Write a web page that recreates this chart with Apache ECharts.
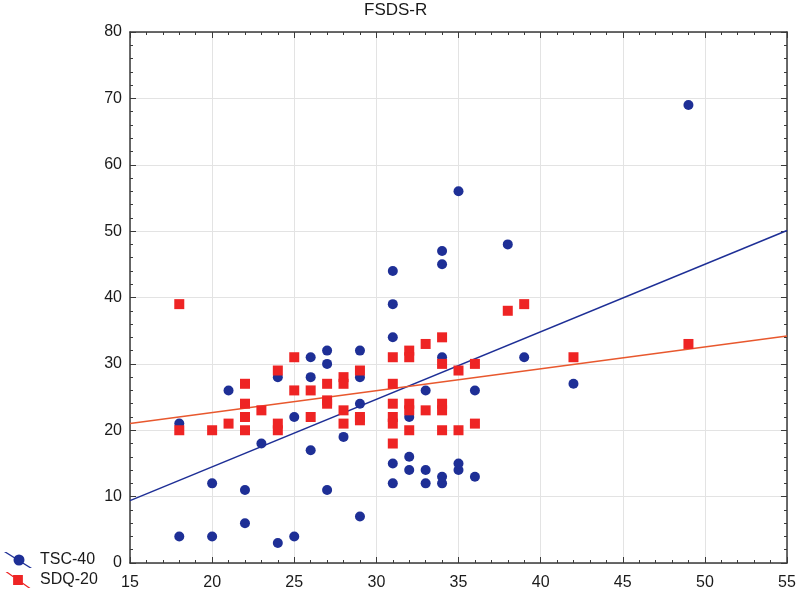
<!DOCTYPE html>
<html>
<head>
<meta charset="utf-8">
<script src="https://cdn.jsdelivr.net/npm/echarts@6/dist/echarts.min.js"></script>
<style>html,body{margin:0;padding:0;background:#fff}#c{width:799px;height:594px}</style>
</head>
<body>
<div id="c"></div>
<script>
const chartTitle = 'FSDS-R';
const seriesNames = ['TSC-40', 'SDQ-20'];
const xTicks = [15, 20, 25, 30, 35, 40, 45, 50, 55];
const yTicks = [0, 10, 20, 30, 40, 50, 60, 70, 80];

const tscPoints = [
  [18,4],[18,21],[20,4],[20,12],[21,26],[22,6],[22,11],[23,18],[24,3],[24,28],
  [25,4],[25,22],[26,17],[26,28],[26,31],[27,11],[27,30],[27,32],[28,19],[29,7],
  [29,24],[29,28],[29,32],[31,12],[31,15],[31,34],[31,39],[31,44],[32,14],[32,16],
  [32,22],[33,12],[33,14],[33,26],[34,12],[34,13],[34,31],[34,45],[34,47],[35,14],
  [35,15],[35,56],[36,13],[36,26],[38,48],[39,31],[42,27],[49,69]
];
const sdqPoints = [
  [18,39],[18,20],[20,20],[21,21],[22,27],[22,24],[22,22],[22,20],[23,23],[24,29],
  [24,21],[24,20],[25,31],[25,26],[26,26],[26,22],[27,27],[27,24.5],[27,24],[28,28],
  [28,27],[28,23],[28,21],[29,29],[29,22],[29,21.5],[31,31],[31,27],[31,24],[31,22],
  [31,21],[31,18],[32,32],[32,31],[32,24],[32,23],[32,20],[33,33],[33,23],[34,34],
  [34,30],[34,24],[34,23],[34,20],[35,29],[35,20],[36,30],[36,21],[38,38],[39,39],
  [42,31],[49,33]
];
// fitted lines (end points)
const tscFit = [[15,9.4],[55,50.1]];
const sdqFit = [[15,21.0],[55,34.2]];

const blue = '#1e2f96';
const red = '#ee2424';
const redLine = '#e8582e';
const axisColor = '#3a3a3a';
const font = 'Liberation Sans, Arial, sans-serif';

const circleIcon = 'path://M0,0 L2.4,0 L28,16 L25.6,16 Z M9.5,8 A5.5,5.5 0 1,1 20.5,8 A5.5,5.5 0 1,1 9.5,8 Z';
const squareIcon = 'path://M0,0 L2.4,0 L28,18 L25.6,18 Z M8.5,3.5 L19.5,3.5 L19.5,14.5 L8.5,14.5 Z';

const xMin = xTicks[0], xMax = xTicks[xTicks.length-1];
const yMin = yTicks[0], yMax = yTicks[yTicks.length-1];

function xAxisCfg(pos, showLabel){
  return {
    type:'value', position:pos, min:xMin, max:xMax, interval:5,
    axisLine:{show:true, onZero:false, lineStyle:{color:axisColor, width:1.5}},
    axisTick:{show:true, inside:true, length:6, lineStyle:{color:axisColor}},
    minorTick:{show:true, splitNumber:5, length:3, lineStyle:{color:axisColor}},
    splitLine:{show:showLabel, lineStyle:{color:'#e3e3e3', width:1}},
    axisLabel:{show:showLabel, color:'#1a1a1a', fontSize:16, fontFamily:font, margin:12}
  };
}
function yAxisCfg(pos, showLabel){
  return {
    type:'value', position:pos, min:yMin, max:yMax, interval:10,
    axisLine:{show:true, onZero:false, lineStyle:{color:axisColor, width:1.5}},
    axisTick:{show:true, inside:true, length:6, lineStyle:{color:axisColor}},
    minorTick:{show:true, splitNumber:5, length:3, lineStyle:{color:axisColor}},
    splitLine:{show:showLabel, lineStyle:{color:'#e3e3e3', width:1}},
    axisLabel:{show:showLabel, color:'#1a1a1a', fontSize:16, fontFamily:font, margin:8}
  };
}

const chart = echarts.init(document.getElementById('c'), null, {renderer:'canvas'});
chart.setOption({
  animation:false,
  backgroundColor:'#fff',
  title:{text:chartTitle, left:364, top:0, padding:[2,0,0,0],
    textStyle:{fontSize:17, fontWeight:'normal', color:'#1a1a1a', fontFamily:font}},
  grid:{left:130, right:12, top:32, bottom:31, containLabel:false},
  xAxis:[xAxisCfg('bottom', true), xAxisCfg('top', false)],
  yAxis:[yAxisCfg('left', true), yAxisCfg('right', false)],
  legend:{
    orient:'vertical', left:4, top:552, height:42, padding:0,
    itemWidth:28, itemHeight:16, itemGap:4,
    textStyle:{fontSize:16, color:'#1a1a1a', fontFamily:font, padding:[0,0,0,3]},
    data:[
      {name:seriesNames[0], icon:circleIcon, itemStyle:{color:blue}},
      {name:seriesNames[1], icon:squareIcon, itemStyle:{color:red}}
    ]
  },
  series:[
    {name:seriesNames[0]+' fit', type:'line', data:tscFit, showSymbol:false, silent:true,
      lineStyle:{color:blue, width:1.5}, z:3},
    {name:seriesNames[1]+' fit', type:'line', data:sdqFit, showSymbol:false, silent:true,
      lineStyle:{color:redLine, width:1.5}, z:3},
    {name:seriesNames[0], type:'scatter', data:tscPoints, symbol:'circle', symbolSize:10,
      itemStyle:{color:blue, opacity:1}, z:4},
    {name:seriesNames[1], type:'scatter', data:sdqPoints, symbol:'rect', symbolSize:10,
      itemStyle:{color:red, opacity:1}, z:5}
  ]
});
</script>
</body>
</html>
